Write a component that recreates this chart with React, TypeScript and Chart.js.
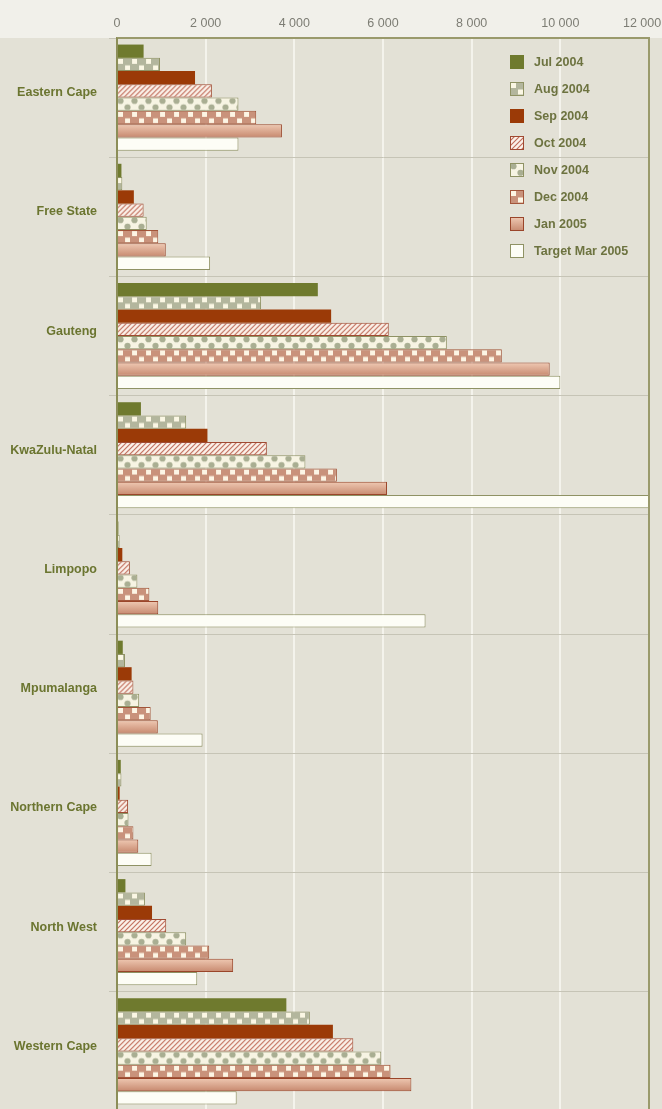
import React, { useEffect, useRef } from 'react';
import { Chart, registerables } from 'chart.js';
Chart.register(...registerables);

const provinces = ['Eastern Cape', 'Free State', 'Gauteng', 'KwaZulu-Natal', 'Limpopo', 'Mpumalanga', 'Northern Cape', 'North West', 'Western Cape'];
const seriesNames = ['Jul 2004', 'Aug 2004', 'Sep 2004', 'Oct 2004', 'Nov 2004', 'Dec 2004', 'Jan 2005', 'Target Mar 2005'];

const jul2004 = [600, 100, 4530, 540, 30, 130, 85, 190, 3820];
const aug2004 = [970, 120, 3250, 1560, 60, 180, 100, 630, 4350];
const sep2004 = [1760, 380, 4830, 2040, 120, 330, 60, 790, 4870];
const oct2004 = [2140, 600, 6130, 3380, 290, 370, 250, 1110, 5330];
const nov2004 = [2740, 670, 7440, 4250, 460, 500, 260, 1560, 5960];
const dec2004 = [3140, 930, 8680, 4960, 730, 760, 370, 2080, 6170];
const jan2005 = [3720, 1100, 9760, 6090, 930, 920, 480, 2620, 6640];
const targetMar2005 = [2740, 2100, 10000, 12000, 6960, 1930, 780, 1810, 2700];

const xTickValues = [0, 2000, 4000, 6000, 8000, 10000, 12000];

const seriesValues = [jul2004, aug2004, sep2004, oct2004, nov2004, dec2004, jan2005, targetMar2005];

const CAT_PCT = 0.89;
const W = 662;
const H = 1111;
const AREA = { left: 117, top: 38, right: 649, bottom: 1111 };
const FONT = '"Liberation Sans", Arial, sans-serif';

type Style =
  | { kind: 'solid'; color: string }
  | { kind: 'tile'; tile: HTMLCanvasElement }
  | { kind: 'grad'; top: string; bottom: string };

function makeTile(w: number, h: number, draw: (g: CanvasRenderingContext2D) => void) {
  const c = document.createElement('canvas');
  c.width = w;
  c.height = h;
  const g = c.getContext('2d')!;
  draw(g);
  return c;
}

function buildStyles(): Style[] {
  const checker = (bg: string, fg: string) =>
    makeTile(14, 13, (g) => {
      g.fillStyle = bg;
      g.fillRect(0, 0, 14, 13);
      g.fillStyle = fg;
      g.fillRect(1, 1, 5, 5);
      g.fillRect(8, 7.5, 5, 5);
    });
  const dots = makeTile(14, 13, (g) => {
    g.fillStyle = '#f7f4e3';
    g.fillRect(0, 0, 14, 13);
    g.fillStyle = '#a9ae92';
    const centers = [
      [3.5, 3.25],
      [10.5, 9.75],
    ];
    for (const [cx, cy] of centers) {
      for (const dx of [-14, 0, 14]) {
        for (const dy of [-13, 0, 13]) {
          g.beginPath();
          g.arc(cx + dx, cy + dy, 3.1, 0, Math.PI * 2);
          g.fill();
        }
      }
    }
  });
  const hatch = makeTile(5, 5, (g) => {
    g.fillStyle = '#fbf2ea';
    g.fillRect(0, 0, 5, 5);
    g.strokeStyle = '#c06a58';
    g.lineWidth = 1.1;
    g.beginPath();
    g.moveTo(-1, 6);
    g.lineTo(6, -1);
    g.moveTo(-1, 1);
    g.lineTo(1, -1);
    g.moveTo(4, 6);
    g.lineTo(6, 4);
    g.stroke();
  });
  return [
    { kind: 'solid', color: '#6f7a2e' },
    { kind: 'tile', tile: checker('#b3b69d', '#fbf7e4') },
    { kind: 'solid', color: '#9b3a07' },
    { kind: 'tile', tile: hatch },
    { kind: 'tile', tile: dots },
    { kind: 'tile', tile: checker('#c9927b', '#fdf5e4') },
    { kind: 'grad', top: '#efc9b3', bottom: '#c7896f' },
    { kind: 'solid', color: '#fdfdf6' },
  ];
}

const borderColors = ['#6f7a2e', '#8f9264', '#8a3306', '#a04a32', '#8f9264', '#a2553a', '#9a452a', '#8f9264'];
const fallbackColors = ['#6f7a2e', '#c9cab5', '#9b3a07', '#e9c3b8', '#d5d6c3', '#dcb7a4', '#dcab93', '#fdfdf6'];

function fillFor(ctx: CanvasRenderingContext2D, s: Style, x: number, top: number, h: number): any {
  if (s.kind === 'solid') return s.color;
  if (s.kind === 'grad') {
    const gr = ctx.createLinearGradient(0, top, 0, top + h);
    gr.addColorStop(0, s.top);
    gr.addColorStop(1, s.bottom);
    return gr;
  }
  const p = ctx.createPattern(s.tile, 'repeat')!;
  try {
    p.setTransform(new DOMMatrix([1, 0, 0, 1, x, top]));
  } catch (e) {}
  return p;
}

const fmt = (v: number) => String(v).replace(/\B(?=(\d{3})+(?!\d))/g, ' ');

export default function App() {
  const ref = useRef<HTMLCanvasElement>(null);
  useEffect(() => {
    document.body.style.margin = '0';
    document.body.style.background = '#e3e1d6';
    const canvas = ref.current!;
    const styles = buildStyles();

    const bgPlugin = {
      id: 'bg',
      beforeDraw(chart: any) {
        const c = chart.ctx;
        c.save();
        c.fillStyle = '#e3e1d6';
        c.fillRect(0, 0, chart.width, chart.height);
        c.fillStyle = '#f1f0ea';
        c.fillRect(0, 0, chart.width, chart.chartArea.top);
        c.restore();
      },
    };

    const framePlugin = {
      id: 'frame',
      afterDatasetsDraw(chart: any) {
        const c = chart.ctx;
        const a = chart.chartArea;
        c.save();
        c.strokeStyle = '#9a9a6c';
        c.lineWidth = 2;
        c.beginPath();
        c.moveTo(a.right, a.top);
        c.lineTo(a.right, a.bottom);
        c.moveTo(a.left, a.top);
        c.lineTo(a.right + 1, a.top);
        c.stroke();
        c.strokeStyle = '#8c8e58';
        c.beginPath();
        c.moveTo(a.left, a.top);
        c.lineTo(a.left, a.bottom);
        c.stroke();
        c.restore();
      },
    };

    const legendPlugin = {
      id: 'customLegend',
      afterDraw(chart: any) {
        const c = chart.ctx as CanvasRenderingContext2D;
        c.save();
        const bx = 510;
        for (let i = 0; i < seriesNames.length; i++) {
          const cy = 62 + i * 27;
          const top = cy - 7;
          c.fillStyle = fillFor(c, styles[i], bx, top, 14);
          c.fillRect(bx, top, 14, 14);
          if (i !== 0 && i !== 2) {
            c.strokeStyle = borderColors[i];
            c.lineWidth = 1;
            c.strokeRect(bx + 0.5, top + 0.5, 13, 13);
          }
          c.fillStyle = '#6d7340';
          c.font = 'bold 12.5px ' + FONT;
          c.textAlign = 'left';
          c.textBaseline = 'middle';
          c.fillText(seriesNames[i], 534, cy + 0.5);
        }
        c.restore();
      },
    };

    const datasets = seriesValues.map((vals, di) => ({
      label: seriesNames[di],
      data: vals,
      borderColor: borderColors[di],
      borderWidth: di === 0 || di === 2 ? 0 : 1,
      borderSkipped: 'start' as const,
      barPercentage: 1,
      categoryPercentage: CAT_PCT,
      backgroundColor: (ctx: any) => {
        const chart = ctx.chart;
        const ys = chart.scales && chart.scales.y;
        if (!chart.chartArea || !ys || ctx.dataIndex === undefined || ctx.type !== 'data') return fallbackColors[di];
        const band = ys.height / provinces.length;
        const center = ys.getPixelForValue(ctx.dataIndex);
        const th = (band * CAT_PCT) / seriesNames.length;
        const top = center - (band * CAT_PCT) / 2 + ctx.datasetIndex * th;
        return fillFor(chart.ctx, styles[di], chart.chartArea.left, top, th);
      },
    }));

    const zeroPad = (s: any) => {
      s.paddingLeft = 0;
      s.paddingRight = 0;
      s.paddingTop = 0;
      s.paddingBottom = 0;
    };

    const chart = new Chart(canvas, {
      type: 'bar',
      data: { labels: provinces, datasets },
      options: {
        indexAxis: 'y',
        responsive: false,
        animation: false,
        layout: { autoPadding: false, padding: { left: 0, right: W - AREA.right, top: 0, bottom: H - AREA.bottom } },
        plugins: { legend: { display: false }, tooltip: { enabled: false } },
        scales: {
          x: {
            position: 'top',
            min: 0,
            max: 12000,
            afterFit: (s: any) => {
              s.height = AREA.top;
              zeroPad(s);
            },
            afterBuildTicks: (s: any) => {
              s.ticks = xTickValues.map((v) => ({ value: v }));
            },
            ticks: {
              padding: 7,
              color: '#7d7d74',
              font: { family: FONT, size: 12.5 },
              callback: (v: any, i: number, ticks: any[]) =>
                i === ticks.length - 1 ? fmt(Number(v)) + '\u2007\u2007' : fmt(Number(v)),
              maxRotation: 0,
            },
            grid: { color: '#f4f3ec', lineWidth: 2, drawTicks: false },
            border: { display: true, color: '#9a9a6c', width: 2 },
          },
          y: {
            afterFit: (s: any) => {
              s.width = AREA.left;
              zeroPad(s);
            },
            ticks: {
              padding: 12,
              labelOffset: -5,
              color: '#6b7530',
              font: { family: FONT, size: 12.5, weight: 'bold' },
            },
            grid: { color: '#c6c4b6', lineWidth: 1, offset: true, drawTicks: true, tickLength: 8 },
            border: { display: true, color: '#8c8e58', width: 2 },
          },
        },
      },
      plugins: [bgPlugin, framePlugin, legendPlugin],
    } as any);

    return () => chart.destroy();
  }, []);

  return (
    <div style={{ width: W, height: 1109, overflow: 'hidden' }}>
      <canvas ref={ref} width={W} height={H} style={{ display: 'block', width: W, height: H }} />
    </div>
  );
}
